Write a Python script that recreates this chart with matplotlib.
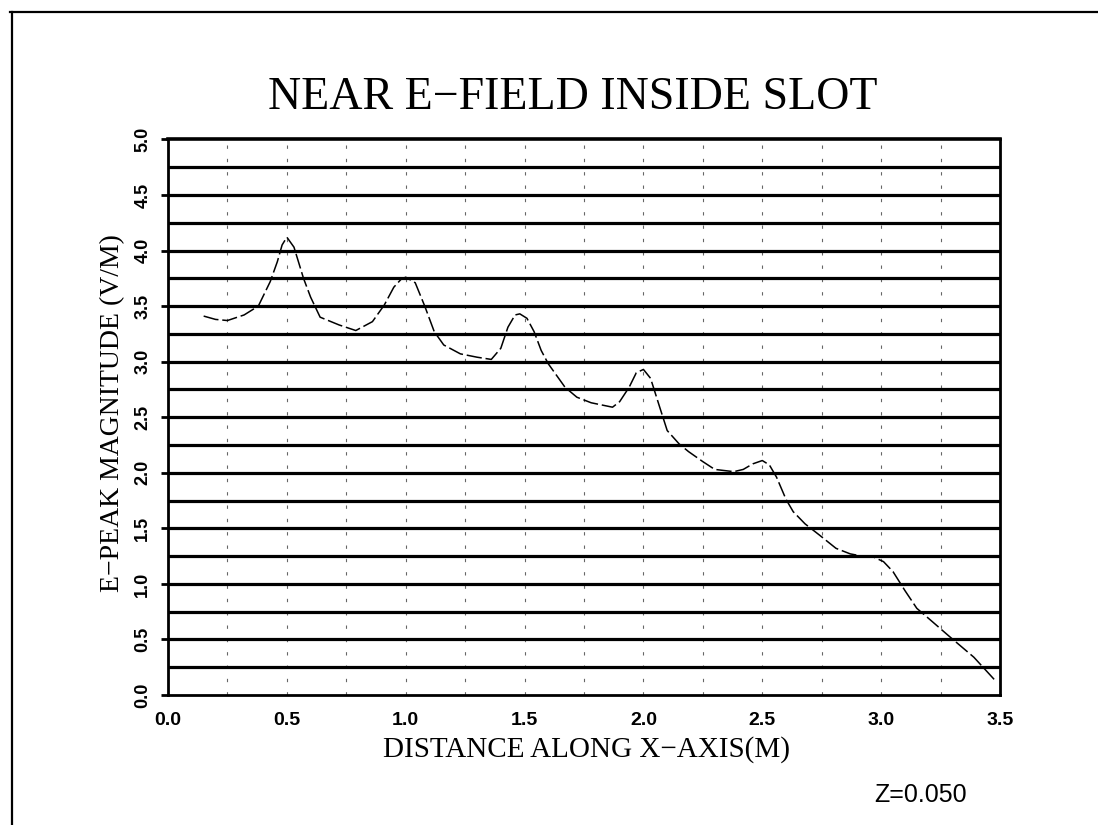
import numpy as np
import matplotlib
matplotlib.use("Agg")
import matplotlib.pyplot as plt
from matplotlib.lines import Line2D

# curve (x in m, field in V/M)
dist = [0.15, 0.20, 0.25, 0.32, 0.38, 0.43, 0.46, 0.48, 0.50, 0.53,
        0.57, 0.60, 0.64, 0.72, 0.79, 0.86, 0.91, 0.95, 0.98, 1.00,
        1.04, 1.08, 1.12, 1.16, 1.23, 1.30, 1.36, 1.40, 1.43, 1.46,
        1.48, 1.51, 1.54, 1.57, 1.60, 1.67, 1.72, 1.78, 1.87, 1.90,
        1.94, 1.97, 2.00, 2.03, 2.07, 2.10, 2.15, 2.19, 2.25, 2.30,
        2.38, 2.42, 2.46, 2.50, 2.53, 2.56, 2.60, 2.63, 2.68, 2.74,
        2.81, 2.87, 2.92, 2.97, 3.01, 3.05, 3.10, 3.15, 3.21, 3.28,
        3.39, 3.48]
epeak = [3.41, 3.38, 3.37, 3.42, 3.50, 3.72, 3.90, 4.05, 4.12, 4.03,
         3.75, 3.58, 3.40, 3.33, 3.28, 3.36, 3.51, 3.67, 3.74, 3.76,
         3.71, 3.50, 3.27, 3.15, 3.07, 3.04, 3.02, 3.12, 3.31, 3.42,
         3.43, 3.39, 3.27, 3.10, 2.98, 2.77, 2.68, 2.63, 2.59, 2.64,
         2.77, 2.90, 2.93, 2.85, 2.58, 2.38, 2.26, 2.19, 2.10, 2.03,
         2.01, 2.03, 2.08, 2.11, 2.07, 1.96, 1.76, 1.65, 1.54, 1.44,
         1.32, 1.27, 1.25, 1.24, 1.20, 1.11, 0.94, 0.78, 0.67, 0.54,
         0.34, 0.13]

xticks = [0.0, 0.5, 1.0, 1.5, 2.0, 2.5, 3.0, 3.5]
yticks = [0.0, 0.5, 1.0, 1.5, 2.0, 2.5, 3.0, 3.5, 4.0, 4.5, 5.0]

serif = "Liberation Serif"
sans = "Liberation Sans"

fig = plt.figure(figsize=(10.98, 8.25), dpi=100)
ax = fig.add_axes([168/1098, 1 - 695/825, 832/1098, 555.6/825])

# grid: heavy horizontal rules, faint dashed verticals, every 0.25
for yv in np.arange(0.25, 5.0, 0.25):
    ax.axhline(yv, color="black", lw=2.3, zorder=1)
for xv in np.arange(0.25, 3.5, 0.25):
    ax.axvline(xv, color="black", lw=0.8, ls=(0, (3, 9)), alpha=0.6, zorder=1)

ax.plot(dist, epeak, color="black", lw=1.1, ls=(0, (10, 2.5)), zorder=3)

ax.set_xlim(0, 3.5)
ax.set_ylim(0, 5.0)
ax.set_xticks(xticks)
ax.set_yticks(yticks)
ax.set_xticklabels([f"{v:.1f}" for v in xticks], fontfamily=sans, fontsize=14,
                   fontweight="bold")
ax.set_yticklabels([f"{v:.1f}" for v in yticks], fontfamily=sans, fontsize=13,
                   fontweight="bold", rotation=90, va="center")
ax.tick_params(axis="x", length=0, pad=12)
ax.tick_params(axis="y", length=5, width=2, direction="out", pad=7)

for sp in ax.spines.values():
    sp.set_linewidth(2)
ax.spines["top"].set_linewidth(2.6)

ax.set_xlabel("DISTANCE ALONG X\u2212AXIS(M)", fontfamily=serif, fontsize=21, va="center")
ax.xaxis.set_label_coords(0.5036, -0.099)
ax.set_ylabel("E\u2212PEAK MAGNITUDE (V/M)", fontfamily=serif, fontsize=20, va="center")
ax.yaxis.set_label_coords(-0.066, 0.508)

fig.text(0.522, 1 - 98/825, "NEAR E\u2212FIELD INSIDE SLOT", fontfamily=serif,
         fontsize=33, ha="center", va="center")
fig.text(0.838, 1 - 795/825, "Z=0.050", fontfamily=sans, fontsize=18,
         ha="center", va="center")

# page border of the scan
fig.add_artist(Line2D([10/1098, 1.0], [1 - 12/825, 1 - 12/825], color="black", lw=1.6))
fig.add_artist(Line2D([12/1098, 12/1098], [0.0, 1 - 12/825], color="black", lw=1.6))

fig.savefig("out.png", dpi=100)
